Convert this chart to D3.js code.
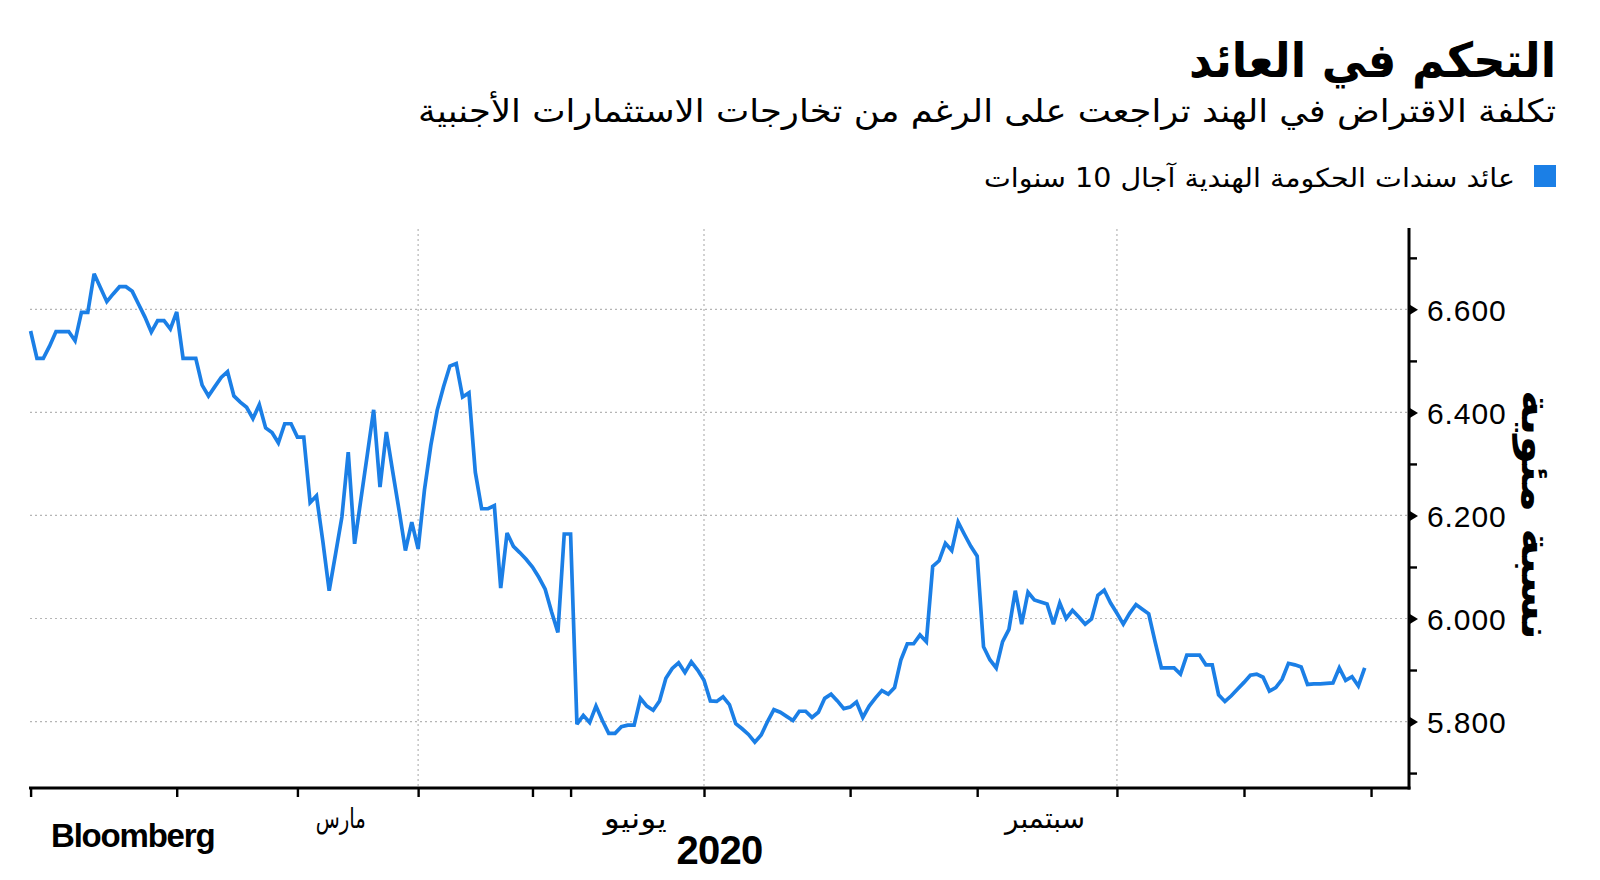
<!DOCTYPE html>
<html><head><meta charset="utf-8">
<script src="https://cdn.jsdelivr.net/npm/d3@7"></script>
<style>
html,body{margin:0;padding:0;background:#fff;}
svg{display:block;}
</style></head>
<body>
<svg id="c" width="1600" height="880"></svg>
<script>
// ---- Data: 10-year Indian government bond yield (%), one value per trading session, 2020 ----
const yJan = [6.558,6.505,6.505,6.529,6.557,6.557,6.557,6.539,6.594,6.594,6.669,6.642,6.615,6.630,6.644,6.644,6.635,6.610,6.585,6.556,6.578,6.578,6.562];
const yFeb = [6.595,6.505,6.505,6.505,6.453,6.432,6.450,6.468,6.479,6.432,6.420,6.410,6.388,6.415,6.370,6.361,6.341,6.378,6.378];
const yMar = [6.352,6.352,6.225,6.238,6.150,6.054,6.125,6.197,6.323,6.145,6.232,6.318,6.405,6.255,6.362,6.285,6.210,6.132,6.187];
const yApr = [6.135,6.250,6.336,6.404,6.450,6.490,6.495,6.430,6.438,6.284,6.213,6.213,6.219,6.059,6.166,6.140,6.128,6.115];
const yMay = [6.100,6.080,6.057,6.013,5.973,6.164];
const yJun = [6.164,5.795,5.812,5.798,5.830,5.802,5.777,5.777,5.790,5.793,5.793,5.845,5.830,5.822,5.840,5.884,5.903,5.914,5.895,5.916,5.900];
const yJul = [5.880,5.840,5.839,5.848,5.833,5.796,5.786,5.775,5.760,5.774,5.800,5.823,5.818,5.810,5.802,5.820,5.820,5.808,5.818,5.845,5.853,5.840,5.825];
const yAug = [5.828,5.838,5.808,5.830,5.846,5.860,5.853,5.866,5.920,5.951,5.951,5.968,5.955,6.101,6.112,6.146,6.132,6.187,6.163,6.140];
const ySep = [6.121,5.945,5.920,5.904,5.955,5.979,6.054,5.989,6.051,6.036,6.032,6.028,5.989,6.030,6.000,6.016,6.003,5.989,5.999,6.045,6.055,6.030];
const yOct = [6.010,5.989,6.010,6.027,6.018,6.009,5.955,5.904,5.904,5.904,5.892,5.929,5.929,5.929,5.910,5.910,5.852,5.839,5.850,5.863];
const yNov = [5.876,5.890,5.892,5.886,5.859,5.866,5.882,5.913,5.910,5.906,5.872,5.873,5.873,5.874,5.875,5.904,5.880,5.887,5.869,5.904];

const monthSeries = [yJan,yFeb,yMar,yApr,yMay,yJun,yJul,yAug,ySep,yOct,yNov];
const monthLabels = {2:"مارس",5:"يونيو",8:"سبتمبر"};   // month index -> label
const yMajorTicks = [5.8,6.0,6.2,6.4,6.6];
const yMinorTicks = [5.7,5.9,6.1,6.3,6.5,6.7];
const yDomain = [5.671,6.756];

const titleText = "التحكم في العائد";
const subtitleText = "تكلفة الاقتراض في الهند تراجعت على الرغم من تخارجات الاستثمارات الأجنبية";
const legendText = "عائد سندات الحكومة الهندية آجال 10 سنوات";
const yAxisTitle = "نسبة مئوية";
const yearLabel = "2020";
const sourceText = "Bloomberg";

// ---- Build flat series ----
const values = [].concat(...monthSeries);
const monthStarts = [];
let acc = 0;
monthSeries.forEach(m => { monthStarts.push(acc); acc += m.length; });
monthStarts.push(acc); // start of December
const N = values.length;

const svg = d3.select("#c");
const BLUE = "#1b7fe6";
const AR = "'DejaVu Sans', 'Noto Sans', sans-serif";
const LAT = "'Liberation Sans', Arial, sans-serif";

const x = d3.scaleLinear().domain([0, N-1]).range([30.6, 1364.7]);
const y = d3.scaleLinear().domain(yDomain).range([788, 229]);
const axisX = 1409;

// Gridlines horizontal
svg.append("g").selectAll("line").data(yMajorTicks).join("line")
  .attr("x1", 30).attr("x2", axisX).attr("y1", d=>y(d)).attr("y2", d=>y(d))
  .attr("stroke", "#b5b5b5").attr("stroke-width", 1.2).attr("stroke-dasharray", "2,3");

// Gridlines vertical at quarter starts (Apr, Jul, Oct)
const quarterStarts = [3,6,9].map(m => monthStarts[m]);
svg.append("g").selectAll("line").data(quarterStarts).join("line")
  .attr("x1", d=>x(d)).attr("x2", d=>x(d)).attr("y1", 229).attr("y2", 788)
  .attr("stroke", "#b5b5b5").attr("stroke-width", 1.2).attr("stroke-dasharray", "2,3");

// Line
svg.append("path").datum(values)
  .attr("fill","none").attr("stroke",BLUE).attr("stroke-width",3.7)
  .attr("stroke-linejoin","miter").attr("stroke-miterlimit",3)
  .attr("d", d3.line().x((d,i)=>x(i)).y(d=>y(d)));

// X axis
const gx = svg.append("g").attr("transform","translate(0,788)")
  .call(d3.axisBottom(x).tickValues(monthStarts).tickSize(9).tickSizeOuter(0).tickFormat(""));
gx.select(".domain").remove();
gx.selectAll(".tick line").attr("stroke","#000").attr("stroke-width",2.4);
svg.append("line").attr("x1",29).attr("x2",axisX+1.5).attr("y1",788).attr("y2",788)
  .attr("stroke","#000").attr("stroke-width",3);

// Month labels
const labelWidths = {2:50, 5:63, 8:80};
const labelData = Object.keys(monthLabels).map(k => ({m:+k, t:monthLabels[k]}));
svg.append("g").selectAll("text").data(labelData).join("text")
  .attr("x", d => x((monthStarts[d.m] + monthStarts[d.m+1]) / 2) - (d.m===2 ? 17 : 2))
  .attr("y", 828).attr("text-anchor","middle")
  .attr("font-family", AR).attr("font-size", 28).attr("fill","#000")
  .attr("textLength", d => labelWidths[d.m]).attr("lengthAdjust","spacingAndGlyphs")
  .text(d => d.t);

svg.append("text").attr("x", (30 + axisX)/2).attr("y", 864).attr("text-anchor","middle")
  .attr("font-family", LAT).attr("font-weight","bold").attr("font-size", 40).attr("fill","#000")
  .attr("letter-spacing", -0.8).text(yearLabel);

// Y axis
const gy = svg.append("g").attr("transform",`translate(${axisX},0)`)
  .call(d3.axisRight(y).tickValues(yMajorTicks).tickSize(0).tickPadding(18).tickFormat(d3.format(".3f")));
gy.select(".domain").remove();
gy.selectAll(".tick text").attr("font-family", LAT).attr("font-size", 30).attr("fill","#000")
  .attr("letter-spacing", 0.9).attr("dy","0.36em");
gy.selectAll(".tick").append("path").attr("d","M0,-5.5L9,0L0,5.5Z").attr("fill","#000");

const gyMinor = svg.append("g").attr("transform",`translate(${axisX},0)`)
  .call(d3.axisRight(y).tickValues(yMinorTicks).tickSize(8).tickFormat(""));
gyMinor.select(".domain").remove();
gyMinor.selectAll(".tick line").attr("stroke","#000").attr("stroke-width",2.4);
svg.append("line").attr("x1",axisX).attr("x2",axisX).attr("y1",228).attr("y2",789.5)
  .attr("stroke","#000").attr("stroke-width",3);

// Y axis title (rotated)
svg.append("text").attr("transform","translate(1536,515) rotate(90)")
  .attr("text-anchor","middle").attr("dominant-baseline","central")
  .attr("font-family", AR).attr("font-weight","bold").attr("font-size", 40).attr("fill","#000")
  .attr("textLength", 250).attr("lengthAdjust","spacingAndGlyphs")
  .text(yAxisTitle);

// Title, subtitle, legend
svg.append("text").attr("x",1556).attr("y",77).attr("text-anchor","end")
  .attr("font-family", AR).attr("font-weight","bold").attr("font-size", 48).attr("fill","#000")
  .attr("textLength", 367).attr("lengthAdjust","spacingAndGlyphs")
  .text(titleText);
svg.append("text").attr("x",1556).attr("y",122).attr("text-anchor","end")
  .attr("font-family", AR).attr("font-size", 32).attr("fill","#000")
  .attr("textLength", 1138).attr("lengthAdjust","spacingAndGlyphs")
  .text(subtitleText);
svg.append("rect").attr("x",1534).attr("y",165).attr("width",22).attr("height",22).attr("fill",BLUE);
svg.append("text").attr("x",1515).attr("y",187).attr("text-anchor","end")
  .attr("font-family", AR).attr("font-size", 26).attr("fill","#000")
  .attr("textLength", 531).attr("lengthAdjust","spacingAndGlyphs")
  .text(legendText);

// Source
svg.append("text").attr("x",51).attr("y",847)
  .attr("font-family", LAT).attr("font-weight","bold").attr("font-size", 33).attr("fill","#000")
  .attr("letter-spacing", -1.2).text(sourceText);
</script>
</body></html>
